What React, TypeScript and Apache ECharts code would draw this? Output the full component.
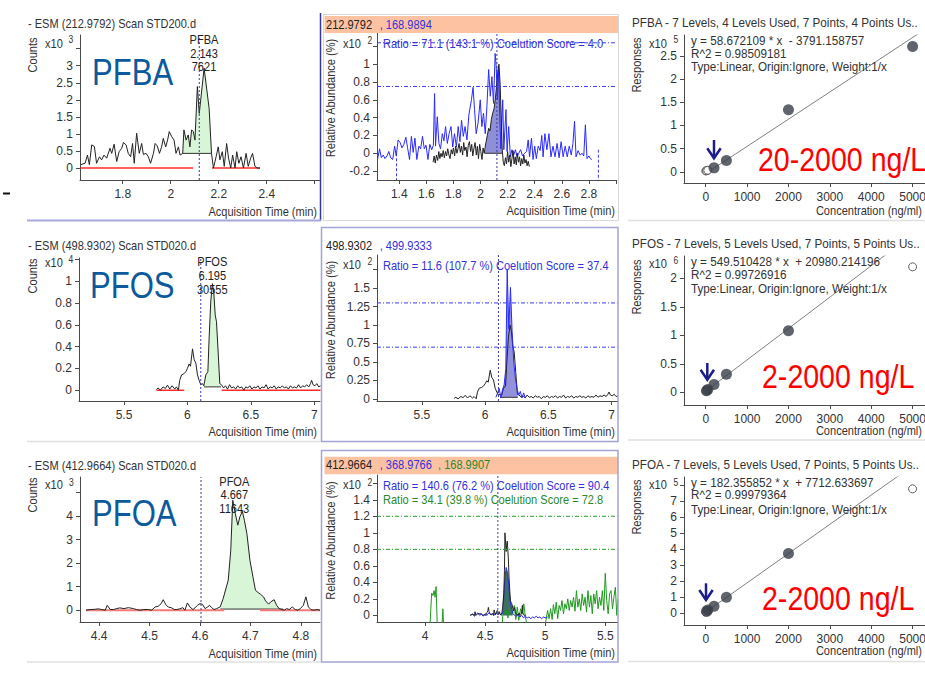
import React, { useEffect, useRef } from "react";
import * as echarts from "echarts";

const FONT = "'Liberation Sans',Arial,sans-serif";
const AXC = "#4a4a4a";
const LBL = "#333333";
const SX = 0.85;

// ---------- tick values ----------
const g1XTicks = [1.8, 2, 2.2, 2.4, 2.6];
const g1XLabels = [1.8, 2, 2.2, 2.4];
const g1YTicks = [0, 0.5, 1, 1.5, 2, 2.5, 3, 3.5];
const g1YLabels = [0, 0.5, 1, 1.5, 2, 2.5, 3];
const g2XTicks = [1.4, 1.6, 1.8, 2, 2.2, 2.4, 2.6, 2.8, 3];
const g2XLabels = [1.4, 1.6, 1.8, 2, 2.2, 2.4, 2.6, 2.8];
const g2YTicks = [-0.2, 0, 0.2, 0.4, 0.6, 0.8, 1, 1.2];
const g2YLabels = [-0.2, 0, 0.2, 0.4, 0.6, 0.8, 1];
const calXTicks = [0, 1000, 2000, 3000, 4000, 5000];
const g3YTicks = [0, 0.5, 1, 1.5, 2, 2.5];
const g4XTicks = [5.5, 6, 6.5, 7];
const g4YTicks = [0, 0.2, 0.4, 0.6, 0.8, 1, 1.2];
const g4YLabels = [0, 0.2, 0.4, 0.6, 0.8, 1];
const g5YTicks = [0, 0.25, 0.5, 0.75, 1, 1.25, 1.5, 1.75];
const g5YLabels = [0, 0.25, 0.5, 0.75, 1, 1.25, 1.5];
const g6YTicks = [0, 0.5, 1, 1.5, 2];
const g7XTicks = [4.4, 4.5, 4.6, 4.7, 4.8];
const g7YTicks = [0, 1, 2, 3, 4, 5];
const g7YLabels = [0, 1, 2, 3, 4];
const g8XTicks = [4, 4.5, 5, 5.5];
const g8YTicks = [0, 0.2, 0.4, 0.6, 0.8, 1, 1.2, 1.4, 1.6];
const g8YLabels = [0, 0.2, 0.4, 0.6, 0.8, 1, 1.2, 1.4];
const g9YTicks = [0, 1, 2, 3, 4, 5, 6, 7, 8];
const g9YLabels = [0, 1, 2, 3, 4, 5, 6, 7];

// ---------- PFBA chromatograms ----------
const pfbaQuant = [
  [1.625, 0.1], [1.643, 0.14], [1.653, 0.38], [1.661, 0.1], [1.671, 0.68], [1.682, 0.63], [1.691, 0.14], [1.703, 0.33],
  [1.712, 0.24], [1.722, 0.38], [1.733, 0.29], [1.747, 0.58], [1.754, 0.43], [1.764, 0.7], [1.775, 0.19], [1.785, 0.48],
  [1.796, 0.58], [1.803, 0.75], [1.814, 0.68], [1.823, 0.43], [1.833, 0.33], [1.841, 0.72], [1.848, 0.14], [1.858, 1.02],
  [1.869, 0.43], [1.879, 0.72], [1.886, 0.4], [1.897, 0.43], [1.907, 0.33], [1.916, 0.14], [1.928, 0.43], [1.935, 0.72],
  [1.944, 0.65], [1.953, 0.43], [1.962, 0.62], [1.969, 0.87], [1.979, 0.62], [1.987, 0.82], [1.994, 1.07], [2.004, 0.92],
  [2.014, 0.82], [2.022, 0.43], [2.032, 0.62], [2.039, 0.38], [2.05, 0.43], [2.055, 1.12], [2.064, 0.82], [2.073, 0.97],
  [2.08, 0.62], [2.087, 1.12], [2.094, 1.07], [2.101, 0.82], [2.111, 2.39], [2.119, 1.6], [2.139, 2.93], [2.16, 1.75],
  [2.17, 0.43], [2.178, 0.0], [2.189, 0.33], [2.198, 0.62], [2.205, 0.24], [2.215, 0.48], [2.223, 0.05], [2.233, 0.72],
  [2.241, 0.29], [2.25, 0.0], [2.258, 0.38], [2.268, 0.0], [2.275, 0.48], [2.284, 0.14], [2.293, 0.33], [2.303, 0.0],
  [2.314, 0.43], [2.323, 0.05], [2.333, 0.29], [2.341, 0.43], [2.351, 0.05], [2.361, 0.0], [2.372, 0.0],
];
const pfbaQualBlue = [
  [1.24, -0.07], [1.255, 0.05], [1.268, -0.05], [1.282, -0.02], [1.295, -0.06], [1.31, -0.03], [1.323, 0.02], [1.337, -0.05],
  [1.352, -0.07], [1.366, 0.08], [1.378, -0.03], [1.392, 0.15], [1.407, 0.12], [1.42, 0.06], [1.434, 0.1], [1.449, 0.18],
  [1.462, 0.06], [1.476, -0.07], [1.49, 0.19], [1.503, 0.01], [1.516, 0.17], [1.53, -0.07], [1.545, 0.08], [1.558, 0.05],
  [1.572, 0.19], [1.585, 0.05], [1.598, 0.09], [1.612, -0.07], [1.626, 0.1], [1.64, 0.04], [1.652, 0.09], [1.661, 0.67],
  [1.668, 0.08], [1.681, 0.41], [1.693, 0.11], [1.705, 0.05], [1.718, 0.22], [1.73, 0.14], [1.742, 0.3], [1.755, 0.11],
  [1.768, 0.22], [1.782, 0.3], [1.795, 0.07], [1.808, 0.22], [1.822, 0.07], [1.835, 0.3], [1.848, 0.13], [1.86, 0.37],
  [1.873, 0.19], [1.886, 0.3], [1.9, 0.15], [1.914, 0.43], [1.933, 0.6], [1.945, 0.74], [1.956, 0.49], [1.968, 0.22],
  [1.982, 0.34], [1.998, 0.6], [2.01, 0.3], [2.022, 0.45], [2.035, 0.22], [2.047, 0.52], [2.06, 0.94], [2.072, 0.64],
  [2.084, 0.86], [2.096, 0.56], [2.108, 1.12], [2.116, 0.97], [2.124, 0.6], [2.133, 0.97], [2.142, 0.41], [2.15, 0.05],
  [2.164, 0.6], [2.172, 0.04], [2.188, 0.49], [2.196, 0.02], [2.208, 0.3], [2.22, -0.04], [2.232, 0.04], [2.245, -0.02],
  [2.258, 0.04], [2.27, -0.04], [2.282, 0.0], [2.296, 0.04], [2.31, -0.03], [2.325, 0.0], [2.34, 0.02], [2.352, 0.15],
  [2.362, -0.04], [2.376, 0.17], [2.388, -0.07], [2.4, 0.08], [2.412, -0.06], [2.426, 0.08], [2.44, 0.03], [2.452, 0.2],
  [2.462, -0.04], [2.475, 0.22], [2.49, 0.04], [2.505, 0.22], [2.52, -0.04], [2.535, 0.08], [2.55, -0.04], [2.565, 0.11],
  [2.58, -0.05], [2.595, 0.13], [2.61, -0.04], [2.625, 0.08], [2.64, -0.04], [2.655, 0.08], [2.67, -0.02], [2.682, 0.11],
  [2.694, 0.36], [2.705, -0.04], [2.72, 0.03], [2.735, -0.02], [2.75, 0.0], [2.762, -0.03], [2.774, 0.32], [2.786, -0.06],
  [2.8, -0.03], [2.81, -0.06], [2.822, -0.07],
];
const pfbaQualBlack = [
  [1.65, -0.1], [1.658, -0.03], [1.666, -0.11], [1.675, -0.02], [1.684, -0.08], [1.692, 0.02], [1.7, -0.06], [1.708, 0.0],
  [1.716, -0.04], [1.725, 0.03], [1.733, -0.05], [1.742, 0.02], [1.75, -0.03], [1.758, 0.05], [1.767, -0.02], [1.775, -0.06],
  [1.784, 0.04], [1.792, -0.01], [1.8, 0.06], [1.809, -0.03], [1.817, 0.08], [1.826, 0.0], [1.834, 0.05], [1.842, 0.11],
  [1.851, 0.01], [1.859, 0.08], [1.868, -0.02], [1.876, 0.12], [1.884, 0.03], [1.893, 0.07], [1.901, -0.04], [1.91, 0.09],
  [1.918, 0.13], [1.927, 0.02], [1.935, 0.1], [1.943, -0.03], [1.952, 0.06], [1.96, 0.12], [1.969, -0.02], [1.977, 0.08],
  [1.985, -0.06], [1.994, 0.1], [2.002, 0.02], [2.011, -0.07], [2.019, 0.06], [2.027, 0.0], [2.031, 0.0], [2.04, 0.12],
  [2.05, 0.2], [2.06, 0.28], [2.07, 0.25], [2.08, 0.38], [2.09, 0.45], [2.1, 0.5], [2.11, 0.62], [2.12, 0.78],
  [2.128, 0.92], [2.136, 1.0], [2.144, 0.8], [2.152, 0.45], [2.16, 0.05], [2.168, -0.1], [2.176, -0.14],
  [2.184, -0.05], [2.192, -0.12], [2.2, 0.02], [2.208, -0.1], [2.216, -0.02], [2.224, -0.15], [2.232, -0.06], [2.24, 0.03],
  [2.248, -0.12], [2.256, -0.04], [2.264, -0.13], [2.272, 0.0], [2.28, -0.1], [2.288, -0.04], [2.296, -0.14], [2.304, -0.06],
  [2.312, -0.12], [2.32, -0.02], [2.328, -0.11], [2.336, -0.07], [2.344, -0.14], [2.352, -0.09], [2.36, -0.15],
];

// ---------- PFOS chromatograms ----------
const pfosQuant = [
  [5.755, 0.006], [5.768, 0.02], [5.786, 0.0], [5.808, 0.03], [5.826, 0.015], [5.842, 0.046], [5.861, 0.01], [5.879, 0.04],
  [5.9, 0.01], [5.913, 0.03], [5.929, 0.0], [5.939, 0.09], [5.953, 0.14], [5.971, 0.15], [5.987, 0.17], [6.0, 0.2],
  [6.013, 0.24], [6.024, 0.22], [6.04, 0.38], [6.053, 0.28], [6.066, 0.25], [6.079, 0.14], [6.092, 0.09], [6.105, 0.05],
  [6.118, 0.06], [6.129, 0.04], [6.145, 0.14], [6.161, 0.17], [6.171, 0.48], [6.184, 0.82], [6.197, 0.98], [6.208, 0.89],
  [6.219, 0.69], [6.229, 0.63], [6.242, 0.35], [6.255, 0.06], [6.268, 0.05], [6.285, 0.02], [6.3, 0.04], [6.316, 0.01],
  [6.332, 0.05], [6.348, 0.02], [6.364, 0.03], [6.38, 0.01], [6.396, 0.04], [6.412, 0.02], [6.428, 0.03], [6.444, 0.0],
  [6.46, 0.03], [6.476, 0.02], [6.492, 0.04], [6.508, 0.01], [6.524, 0.03], [6.54, 0.02], [6.556, 0.04], [6.572, 0.01],
  [6.588, 0.03], [6.604, 0.02], [6.62, 0.05], [6.636, 0.01], [6.652, 0.03], [6.668, 0.02], [6.684, 0.04], [6.7, 0.01],
  [6.716, 0.03], [6.732, 0.02], [6.748, 0.04], [6.764, 0.02], [6.78, 0.03], [6.796, 0.01], [6.812, 0.04], [6.828, 0.02],
  [6.844, 0.03], [6.86, 0.02], [6.876, 0.05], [6.892, 0.02], [6.908, 0.04], [6.924, 0.03], [6.94, 0.05], [6.956, 0.03],
  [6.97, 0.06], [6.979, 0.09], [6.99, 0.05], [7.005, 0.04], [7.02, 0.06], [7.035, 0.03], [7.05, 0.04],
];
const pfosQuantPeak = 0.98;
const pfosQualBlue = [
  [6.085, 0.02], [6.098, 0.08], [6.111, 0.14], [6.124, 0.01], [6.137, 0.12], [6.15, 0.19], [6.163, 0.41], [6.174, 1.76],
  [6.187, 0.95], [6.2, 1.51], [6.213, 0.91], [6.226, 0.5], [6.239, 0.28], [6.252, 0.14], [6.265, 0.05], [6.278, 0.1],
  [6.291, 0.01], [6.304, 0.08], [6.318, 0.01],
];

// ---------- PFOA chromatograms ----------
const pfoaQuant = [
  [4.374, 0.0], [4.382, 0.03], [4.392, 0.04], [4.398, 0.06], [4.405, 0.03], [4.412, 0.0], [4.416, 0.21], [4.422, 0.03],
  [4.428, 0.03], [4.435, 0.07], [4.441, 0.1], [4.449, 0.07], [4.458, 0.11], [4.468, 0.07], [4.474, 0.03], [4.481, 0.0],
  [4.488, 0.03], [4.498, 0.03], [4.504, 0.0], [4.511, 0.14], [4.517, 0.17], [4.523, 0.28], [4.527, 0.45], [4.533, 0.21],
  [4.537, 0.14], [4.544, 0.1], [4.549, 0.03], [4.554, 0.03], [4.56, 0.06], [4.566, 0.11], [4.57, 0.0], [4.575, 0.31],
  [4.58, 0.14], [4.586, 0.03], [4.59, 0.1], [4.595, 0.21], [4.6, 0.28], [4.605, 0.25], [4.61, 0.07], [4.615, 0.14],
  [4.619, 0.21], [4.623, 0.11], [4.628, 0.03], [4.633, 0.07], [4.64, 0.14], [4.646, 0.5], [4.656, 1.28], [4.661, 2.55],
  [4.665, 4.68], [4.67, 4.11], [4.675, 3.62], [4.679, 3.97], [4.684, 4.21], [4.688, 3.83], [4.693, 3.26], [4.699, 2.13],
  [4.705, 1.42], [4.71, 0.85], [4.716, 0.74], [4.72, 0.68], [4.726, 0.57], [4.73, 0.4], [4.736, 0.26], [4.74, 0.35],
  [4.747, 0.45], [4.752, 0.21], [4.757, 0.07], [4.762, 0.03], [4.767, 0.0], [4.772, 0.07], [4.777, 0.03], [4.783, 0.14],
  [4.789, 0.03], [4.794, 0.0], [4.799, 0.07], [4.805, 0.21], [4.81, 0.57], [4.815, 0.14], [4.82, 0.03], [4.825, 0.0],
  [4.832, 0.03], [4.838, 0.0],
];
const pfoaQuantPeak = 4.68;
const pfoaQualBlue = [
  [4.38, 0.0], [4.395, 0.02], [4.41, -0.01], [4.425, 0.01], [4.44, 0.03], [4.455, 0.0], [4.47, 0.02], [4.485, -0.01],
  [4.5, 0.02], [4.515, 0.0], [4.53, 0.03], [4.545, 0.01], [4.56, 0.02], [4.575, 0.0], [4.59, 0.03], [4.605, 0.01],
  [4.62, 0.02], [4.635, 0.0], [4.648, 0.04], [4.661, 0.38], [4.675, 0.58], [4.689, 0.5], [4.703, 0.26], [4.717, 0.1],
  [4.731, 0.02], [4.745, 0.0], [4.76, -0.01], [4.775, 0.01], [4.79, -0.02], [4.805, 0.0], [4.82, -0.03], [4.835, -0.01],
  [4.85, -0.03], [4.865, -0.02], [4.88, -0.04], [4.895, -0.02], [4.91, -0.03], [4.925, -0.01], [4.94, -0.03], [4.955, -0.02],
  [4.97, -0.04], [4.985, -0.02], [5.0, -0.03], [5.02, -0.02],
];
const pfoaQualGreen = [
  [4.04, -0.15], [4.055, 0.27], [4.066, 0.24], [4.075, 0.3], [4.083, 0.22], [4.092, 0.35], [4.102, -0.15], [4.14, -0.15],
  [4.148, 0.08], [4.156, -0.15], [4.6, -0.15], [4.64, -0.15], [4.65, 0.05], [4.662, 0.02], [4.675, 0.06], [4.69, -0.03],
  [4.703, 0.1], [4.715, 0.14], [4.728, 0.02], [4.742, 0.12], [4.755, -0.05], [4.768, 0.1], [4.78, -0.06], [4.795, 0.08],
  [4.81, 0.02], [4.822, 0.14], [4.835, -0.02], [4.85, -0.12], [4.9, -0.12], [4.95, -0.12], [5.0, -0.12], [5.02, 0.06],
  [5.032, -0.04], [5.045, 0.08], [5.058, -0.05], [5.068, 0.13], [5.08, 0.02], [5.092, 0.16], [5.104, -0.04], [5.116, 0.12],
  [5.128, 0.06], [5.14, 0.18], [5.152, 0.02], [5.164, 0.14], [5.176, 0.08], [5.188, 0.2], [5.2, 0.06], [5.212, 0.18],
  [5.224, 0.1], [5.236, 0.22], [5.248, 0.05], [5.26, 0.3], [5.272, 0.1], [5.284, 0.2], [5.296, 0.06], [5.308, 0.26],
  [5.32, 0.12], [5.332, 0.22], [5.344, 0.04], [5.356, 0.3], [5.368, 0.1], [5.38, 0.24], [5.392, 0.02], [5.404, 0.26],
  [5.416, 0.14], [5.428, 0.3], [5.44, 0.08], [5.452, 0.22], [5.464, 0.12], [5.476, 0.3], [5.488, 0.06], [5.5, 0.51],
  [5.512, 0.18], [5.524, 0.02], [5.536, 0.26], [5.548, 0.3], [5.56, 0.08], [5.572, 0.22], [5.584, 0.34], [5.596, 0.0],
  [5.606, 0.2],
];

// ---------- calibration ----------
const calLevels = [2, 20, 50, 200, 500, 2000, 5000];
const pfbaResp = [0.02, 0.025, 0.035, 0.086, 0.243, 1.34, 2.7]; // x10^5
const pfbaUsed = [false, false, false, true, true, true, true];
const pfosResp = [0.02, 0.03, 0.05, 0.14, 0.32, 1.08, 2.2]; // x10^6
const pfosUsed = [false, true, true, true, true, true, false];
const pfoaResp = [0.08, 0.12, 0.2, 0.44, 1.0, 3.73, 7.76]; // x10^5
const pfoaUsed = [false, true, true, true, true, true, false];
const pfbaFit = { m: 58.672109, b: -3791.158757, scale: 1e5, from: 100, to: 5300 };
const pfosFit = { m: 549.510428, b: 20980.214196, scale: 1e6, from: 2, to: 5300 };
const pfoaFit = { m: 182.355852, b: 7712.633697, scale: 1e5, from: 2, to: 5300 };

// axis extents per panel (x min/max, y min/max)
const ranges = [
  [1.622, 2.622, -0.35, 3.9],
  [1.236, 3.0, -0.3, 1.35],
  [-525, 5300, -0.24, 2.95],
  [5.145, 7.045, -0.1, 1.216],
  [5.145, 7.05, -0.03, 1.95],
  [-525, 5300, -0.22, 2.39],
  [4.362, 4.838, -0.5, 5.67],
  [3.6, 5.606, -0.08, 1.7],
  [-525, 5300, -0.73, 8.5],
];

function buildOption() {
  const grids = [
    { left: 80, top: 35, width: 240, height: 145 },
    { left: 377, top: 33, width: 239, height: 147 },
    { left: 684, top: 35, width: 241, height: 148 },
    { left: 79, top: 258, width: 241, height: 143 },
    { left: 377, top: 255, width: 241, height: 146 },
    { left: 684, top: 256, width: 241, height: 149 },
    { left: 80, top: 477, width: 240, height: 145 },
    { left: 377, top: 475, width: 241, height: 147 },
    { left: 684, top: 477, width: 241, height: 148 },
  ].map((g) => ({ ...g, containLabel: false, outerBoundsMode: "none" }));

  const ax = (gi: number, min: number, max: number, ticks: number[], labels: number[], margin: number) => ({
    type: "value",
    gridIndex: gi,
    min,
    max,
    axisLine: { show: true, onZero: false, lineStyle: { color: AXC, width: 1 } },
    axisTick: { show: true, length: 4, customValues: ticks, lineStyle: { color: AXC } },
    axisLabel: {
      show: true,
      customValues: labels,
      formatter: (v: number) => String(v),
      color: LBL,
      fontSize: 12,
      fontFamily: FONT,
      margin,
    },
    splitLine: { show: false },
  });

  const xT = [g1XTicks, g2XTicks, calXTicks, g4XTicks, g4XTicks, calXTicks, g7XTicks, g8XTicks, calXTicks];
  const xL = [g1XLabels, g2XLabels, calXTicks, g4XTicks, g4XTicks, calXTicks, g7XTicks, g8XTicks, calXTicks];
  const yT = [g1YTicks, g2YTicks, g3YTicks, g4YTicks, g5YTicks, g6YTicks, g7YTicks, g8YTicks, g9YTicks];
  const yL = [g1YLabels, g2YLabels, g3YTicks, g4YLabels, g5YLabels, g6YTicks, g7YLabels, g8YLabels, g9YLabels];

  const xAxis = ranges.map((r, i) => ({ ...ax(i, r[0], r[1], xT[i], xL[i], 8), position: "bottom" }));
  const yAxis = ranges.map((r, i) => ({ ...ax(i, r[2], r[3], yT[i], yL[i], 7), position: "left" }));

  const series: any[] = [];
  const base = (gi: number) => ({ xAxisIndex: gi, yAxisIndex: gi, silent: true, animation: false });
  const line = (gi: number, data: any[], color: string, width = 1, extra: any = {}) => ({
    ...base(gi),
    type: "line",
    data,
    symbol: "none",
    showSymbol: false,
    lineStyle: { color, width },
    itemStyle: { color },
    z: 3,
    ...extra,
  });
  const win = (data: number[][], a: number, b: number, lvl: number) => [
    [a, lvl],
    ...data.filter((p) => p[0] > a && p[0] < b),
    [b, lvl],
  ];
  const fill = (gi: number, data: any[], color: string, origin: number) => ({
    ...base(gi),
    type: "line",
    data,
    symbol: "none",
    showSymbol: false,
    lineStyle: { width: 0, color },
    areaStyle: { color, opacity: 1, origin },
    z: 1,
  });
  const vRef = (gi: number, x: number) =>
    line(gi, [[x, ranges[gi][2]], [x, ranges[gi][3]]], "#3a3aa8", 1, {
      lineStyle: { color: "#3a3aa8", width: 1, type: [2, 2] },
      z: 5,
    });
  const hRef = (gi: number, y: number, color: string) =>
    line(gi, [[ranges[gi][0], y], [ranges[gi][1], y]], color, 1, {
      lineStyle: { color, width: 1, type: [4, 2, 1, 2] },
      z: 5,
    });

  const RED = "#ff2a2a";
  const RED3 = "#f47a7a";
  const QBLUE = "#3a3aff";
  const QGREEN = "#22a022";

  // G1 PFBA quant
  series.push(fill(0, win(pfbaQuant, 2.05, 2.17, 0.43), "#d8f5d8", 0.43));
  series.push(line(0, [[2.05, 0.43], [2.17, 0.43]], "#333"));
  series.push(line(0, [[1.625, 0], [2.094, 0]], RED, 1.5));
  series.push(line(0, [[2.172, 0], [2.372, 0]], RED, 1.5));
  series.push(line(0, pfbaQuant, "#222"));
  series.push(vRef(0, 2.119));

  // G2 PFBA qualifier
  series.push(fill(1, win(pfbaQualBlack, 2.031, 2.16, 0), "rgba(96,96,200,0.7)", 0));
  series.push(line(1, [[2.031, 0], [2.16, 0]], "#333"));
  series.push(line(1, [[1.38, 0], [1.38, -0.3]], QBLUE, 1, { lineStyle: { color: QBLUE, width: 1, type: [3, 2] } }));
  series.push(line(1, [[2.87, 0.04], [2.87, -0.3]], QBLUE, 1, { lineStyle: { color: QBLUE, width: 1, type: [3, 2] } }));
  series.push(line(1, pfbaQualBlue, "#2a2aff"));
  series.push(line(1, pfbaQualBlack, "#222"));
  series.push(hRef(1, 0.75, QBLUE));
  series.push(hRef(1, 1.24, QBLUE));
  series.push(vRef(1, 2.121));

  // calibration helper
  const calSeries = (gi: number, resp: number[], used: boolean[], fit: any) => {
    series.push(
      line(gi, [
        [fit.from, (fit.m * fit.from + fit.b) / fit.scale],
        [fit.to, (fit.m * fit.to + fit.b) / fit.scale],
      ], "#808080", 1, { z: 2 })
    );
    series.push({
      ...base(gi),
      type: "scatter",
      symbol: "circle",
      symbolSize: 8,
      data: calLevels.map((c, i) => [c, resp[i]]).filter((_, i) => !used[i]),
      itemStyle: { color: "#ffffff", borderColor: "#3a3a3a", borderWidth: 1 },
      z: 3,
    });
    series.push({
      ...base(gi),
      type: "scatter",
      symbol: "circle",
      symbolSize: 11,
      data: calLevels.map((c, i) => [c, resp[i]]).filter((_, i) => used[i]),
      itemStyle: { color: "#383d47" },
      z: 4,
    });
  };
  calSeries(2, pfbaResp, pfbaUsed, pfbaFit);

  // G4 PFOS quant
  series.push(fill(3, win(pfosQuant, 6.13, 6.265, 0.03), "#d8f5d8", 0.03));
  series.push(line(3, [[6.13, 0.03], [6.265, 0.03]], "#333"));
  series.push(line(3, [[5.756, 0], [5.975, 0]], RED, 1.5));
  series.push(line(3, [[6.27, 0], [7.05, 0]], RED, 1.5));
  series.push(line(3, pfosQuant, "#222"));
  series.push(vRef(3, 6.105));

  // G5 PFOS qualifier
  series.push(fill(4, win(pfosQualBlue, 6.12, 6.258, 0.02), "rgba(100,100,205,0.7)", 0.02));
  series.push(line(4, [[6.12, 0.02], [6.258, 0.02]], "#333"));
  series.push(line(4, pfosQuant.map(([t, v]) => [t, v / pfosQuantPeak]), "#222"));
  series.push(line(4, pfosQualBlue, "#2a2aff"));
  series.push(hRef(4, 1.3, QBLUE));
  series.push(hRef(4, 0.7, QBLUE));
  series.push(vRef(4, 6.105));

  // G6 PFOS calibration
  calSeries(5, pfosResp, pfosUsed, pfosFit);

  // G7 PFOA quant
  series.push(fill(6, win(pfoaQuant, 4.64, 4.764, 0.05), "#d8f5d8", 0.05));
  series.push(line(6, [[4.64, 0.05], [4.765, 0.05]], "#333"));
  series.push(line(6, [[4.374, 0], [4.648, 0]], RED3, 2));
  series.push(line(6, [[4.719, 0], [4.838, 0]], RED3, 2));
  series.push(line(6, pfoaQuant, "#222"));
  series.push(vRef(6, 4.602));

  // G8 PFOA qualifiers
  series.push(fill(7, win(pfoaQualBlue, 4.648, 4.731, 0), "#3d6f62", 0));
  series.push(line(7, pfoaQualGreen, "#1f9a1f"));
  series.push(line(7, pfoaQualBlue, "#2a2aff"));
  series.push(line(7, pfoaQuant.map(([t, v]) => [t, v / pfoaQuantPeak]), "#222"));
  series.push(hRef(7, 1.2, QGREEN));
  series.push(hRef(7, 0.8, QGREEN));
  series.push(vRef(7, 4.606));

  // G9 PFOA calibration
  calSeries(8, pfoaResp, pfoaUsed, pfoaFit);

  // ---------- graphic ----------
  const T = (text: string, x: number, y: number, o: any = {}) => ({
    type: "text",
    x,
    y,
    rotation: o.rot || 0,
    scaleX: o.sx || SX,
    silent: true,
    z: 100,
    style: {
      text,
      fill: o.color || "#333",
      fontSize: o.size || 13,
      fontFamily: FONT,
      fontWeight: o.weight || "normal",
      textAlign: o.align || "left",
      textVerticalAlign: "middle",
    },
  });
  const TR = (text: string, x: number, y: number) => T(text, x, y, { size: 13.6, sx: 0.86 });
  const L = (x1: number, y1: number, x2: number, y2: number, stroke: string, w = 1) => ({
    type: "line",
    silent: true,
    z: 50,
    shape: { x1, y1, x2, y2 },
    style: { stroke, lineWidth: w },
  });
  const R = (x: number, y: number, width: number, height: number, style: any) => ({
    type: "rect",
    silent: true,
    z: 40,
    shape: { x, y, width, height },
    style,
  });
  const arrow = (x: number, y1: number, y2: number) => [
    L(x, y1, x, y2, "#1c1c8c", 2.5),
    {
      type: "polyline",
      silent: true,
      z: 60,
      shape: { points: [[x - 6.7, y2 - 10], [x, y2], [x + 6.7, y2 - 10]] },
      style: { stroke: "#1c1c8c", lineWidth: 2.5, fill: "none" },
    },
  ];
  const BLUE_T = "#3232d8";
  const GREEN_T = "#2a8a2a";
  const HEAD = "#fcc2a2";
  const BIG = "#0c5a9c";
  const ROT = Math.PI / 2;

  const elements: any[] = [
    // frames / separators
    R(323.5, 14.5, 295, 206, { fill: "none", stroke: "#d8d8d8", lineWidth: 1 }),
    R(324.5, 16, 293.5, 17, { fill: HEAD }),
    R(324.5, 456.7, 293.5, 17.5, { fill: HEAD }),
    R(321.5, 227.5, 296.5, 214, { fill: "none", stroke: "#a4a4d6", lineWidth: 1.5 }),
    R(321.5, 450.5, 296.5, 211.5, { fill: "none", stroke: "#a4a4d6", lineWidth: 1.5 }),
    L(320.5, 13, 320.5, 221, "#3636a0", 1.5),
    L(27, 220.5, 321, 220.5, "#a8a8dc", 2),
    L(628, 220.5, 925, 220.5, "#e0e0e0", 1.5),
    L(27, 441.5, 321, 441.5, "#e0e0e0", 1.5),
    L(628, 440, 925, 440, "#e0e0e0", 1.5),
    L(27, 662, 321, 662, "#e0e0e0", 1.5),
    L(628, 661.5, 925, 661.5, "#e0e0e0", 1.5),
    R(3, 192.5, 7, 2, { fill: "#111" }),

    // row 1 left
    T("- ESM (212.9792) Scan STD200.d", 28, 24),
    T("Counts", 33, 55, { rot: ROT, align: "center" }),
    T("x10", 45, 44),
    T("3", 68.5, 40, { size: 10 }),
    T("PFBA", 92, 72, { size: 37, color: BIG, sx: 0.84 }),
    T("PFBA", 204, 40, { align: "center", color: "#222" }),
    T("2.143", 204, 53.5, { align: "center", color: "#222" }),
    T("7621", 204, 67, { align: "center", color: "#222" }),
    T("Acquisition Time (min)", 317, 212, { align: "right" }),

    // row 1 middle
    T("212.9792", 326, 24.7, { color: "#222" }),
    T(", 168.9894", 379.7, 24.7, { color: BLUE_T }),
    T("x10", 343, 43.5),
    T("2", 367.5, 40.5, { size: 10 }),
    T("Relative Abundance (%)", 331, 98, { rot: ROT, align: "center" }),
    T("Ratio = 71.1 (143.1 %) Coelution Score = 4.0", 383, 43.5, { color: BLUE_T }),
    T("Acquisition Time (min)", 615, 211, { align: "right" }),

    // row 1 right
    TR("PFBA - 7 Levels, 4 Levels Used, 7 Points, 4 Points Us..", 632, 23),
    T("Responses", 637, 65, { rot: ROT, align: "center" }),
    T("x10", 649, 43.5),
    T("5", 673.5, 40, { size: 10 }),
    TR("y = 58.672109 * x  - 3791.158757", 691, 40.7),
    TR("R^2 = 0.98509181", 691, 53.3),
    TR("Type:Linear, Origin:Ignore, Weight:1/x", 691, 66.7),
    ...arrow(714, 140, 158.3),
    T("20-2000 ng/L", 758, 160, { size: 34, color: "#ff0000", sx: 0.84 }),
    T("Concentration (ng/ml)", 922, 211, { align: "right" }),

    // row 2 left
    T("- ESM (498.9302) Scan STD020.d", 28, 245.3),
    T("Counts", 33, 276, { rot: ROT, align: "center" }),
    T("x10", 45, 262.3),
    T("4", 68.5, 260, { size: 10 }),
    T("PFOS", 90, 285, { size: 37, color: BIG, sx: 0.84 }),
    T("PFOS", 212.3, 261.3, { align: "center", color: "#222" }),
    T("6.195", 212.3, 275.3, { align: "center", color: "#222" }),
    T("30555", 212.3, 289.7, { align: "center", color: "#222" }),
    T("Acquisition Time (min)", 317, 432, { align: "right" }),

    // row 2 middle
    T("498.9302", 326, 245.3, { color: "#222" }),
    T(", 499.9333", 379.7, 245.3, { color: BLUE_T }),
    T("x10", 343, 264.7),
    T("2", 367.5, 262, { size: 10 }),
    T("Relative Abundance (%)", 331, 320, { rot: ROT, align: "center" }),
    T("Ratio = 11.6 (107.7 %) Coelution Score = 37.4", 383, 265.7, { color: BLUE_T }),
    T("Acquisition Time (min)", 615, 432, { align: "right" }),

    // row 2 right
    TR("PFOS - 7 Levels, 5 Levels Used, 7 Points, 5 Points Us..", 632, 244),
    T("Responses", 637, 287, { rot: ROT, align: "center" }),
    T("x10", 649, 264),
    T("6", 673.5, 260.3, { size: 10 }),
    TR("y = 549.510428 * x  + 20980.214196", 691, 261.3),
    TR("R^2 = 0.99726916", 691, 274.7),
    TR("Type:Linear, Origin:Ignore, Weight:1/x", 691, 288.7),
    ...arrow(707.3, 363, 379.7),
    T("2-2000 ng/L", 762, 377, { size: 34, color: "#ff0000", sx: 0.84 }),
    T("Concentration (ng/ml)", 922, 430.3, { align: "right" }),

    // row 3 left
    T("- ESM (412.9664) Scan STD020.d", 28, 466),
    T("Counts", 33, 495, { rot: ROT, align: "center" }),
    T("x10", 45, 485),
    T("3", 69, 482.7, { size: 10 }),
    T("PFOA", 92, 513, { size: 37, color: BIG, sx: 0.84 }),
    T("PFOA", 234.3, 481.7, { align: "center", color: "#222" }),
    T("4.667", 234.3, 495, { align: "center", color: "#222" }),
    T("11643", 234.3, 509, { align: "center", color: "#222" }),
    T("Acquisition Time (min)", 317, 653.3, { align: "right" }),

    // row 3 middle
    T("412.9664", 326, 465, { color: "#222" }),
    T(", 368.9766", 379.7, 465, { color: BLUE_T }),
    T(", 168.9907", 438, 465, { color: GREEN_T }),
    T("x10", 343, 485),
    T("2", 367.5, 482.3, { size: 10 }),
    T("Relative Abundance (%)", 331, 540.5, { rot: ROT, align: "center" }),
    T("Ratio = 140.6 (76.2 %) Coelution Score = 90.4", 383, 485.7, { color: BLUE_T }),
    T("Ratio = 34.1 (39.8 %) Coelution Score = 72.8", 383, 500, { color: GREEN_T }),
    T("Acquisition Time (min)", 615, 652.7, { align: "right" }),

    // row 3 right
    TR("PFOA - 7 Levels, 5 Levels Used, 7 Points, 5 Points Us..", 632, 465),
    T("Responses", 637, 507, { rot: ROT, align: "center" }),
    T("x10", 649, 485),
    T("5", 673.5, 482.3, { size: 10 }),
    TR("y = 182.355852 * x  + 7712.633697", 691, 482.3),
    TR("R^2 = 0.99979364", 691, 495),
    TR("Type:Linear, Origin:Ignore, Weight:1/x", 691, 509.3),
    ...arrow(706, 583.3, 600),
    T("2-2000 ng/L", 762, 599, { size: 34, color: "#ff0000", sx: 0.84 }),
    T("Concentration (ng/ml)", 922, 651, { align: "right" }),
  ];

  return {
    animation: false,
    backgroundColor: "#ffffff",
    textStyle: { fontFamily: FONT },
    grid: grids,
    xAxis,
    yAxis,
    series,
    graphic: { elements },
  };
}

export default function App() {
  const ref = useRef<HTMLDivElement>(null);
  useEffect(() => {
    const chart = echarts.init(ref.current as HTMLDivElement, null, { renderer: "svg" });
    chart.setOption(buildOption() as any);
    return () => chart.dispose();
  }, []);
  return (
    <div
      ref={ref}
      style={{ position: "absolute", left: 0, top: 0, width: 925, height: 674, background: "#fff" }}
    />
  );
}
